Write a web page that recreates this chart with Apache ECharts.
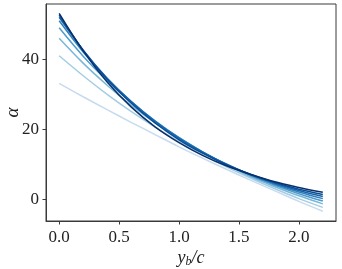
<!DOCTYPE html>
<html>
<head>
<meta charset="utf-8">
<script src="https://cdn.jsdelivr.net/npm/echarts@6/dist/echarts.min.js"></script>
<style>html,body{margin:0;padding:0;background:#fff}#c{width:342px;height:269px}</style>
</head>
<body>
<div id="c"></div>
<script>
// x positions (y_b / c)
var xs = [0.0, 0.2, 0.4, 0.6, 0.8, 1.0, 1.2, 1.4, 1.6, 1.8, 2.0, 2.2];
// alpha curves, lightest to darkest
var line1 = [33.1, 29.3, 25.6, 22.0, 18.5, 15.0, 11.7, 8.5, 5.4, 2.4, -0.6, -3.4];
var line2 = [41.0, 35.3, 30.0, 25.1, 20.6, 16.5, 12.7, 9.2, 6.0, 3.0, 0.2, -2.3];
var line3 = [46.0, 38.9, 32.6, 26.9, 21.8, 17.3, 13.3, 9.7, 6.4, 3.6, 1.0, -1.3];
var line4 = [49.0, 40.9, 33.9, 27.7, 22.3, 17.6, 13.5, 9.9, 6.7, 4.0, 1.6, -0.5];
var line5 = [51.0, 42.1, 34.5, 28.0, 22.4, 17.6, 13.5, 10.0, 6.9, 4.3, 2.1, 0.2];
var line6 = [52.0, 42.6, 34.6, 27.9, 22.2, 17.4, 13.4, 9.9, 7.0, 4.6, 2.5, 0.8];
var line7 = [52.6, 42.6, 34.3, 27.5, 21.8, 17.0, 13.1, 9.8, 7.1, 4.8, 2.9, 1.4];
var line8 = [53.1, 42.4, 33.5, 26.4, 20.7, 16.2, 12.5, 9.5, 7.1, 5.0, 3.4, 2.0];
var seriesData = [line1, line2, line3, line4, line5, line6, line7, line8];
var colors = ['#c6dbef', '#a3cde3', '#7ab6d9', '#509ccc', '#3080bd', '#1764ab', '#084d96', '#08306b'];
var xTicks = [0, 0.5, 1.0, 1.5, 2.0];
var yTicks = [0, 20, 40];

var chart = echarts.init(document.getElementById('c'));
var font = 'Liberation Serif';
chart.setOption({
  animation: false,
  grid: {left: 46, right: 6, top: 4, bottom: 48, containLabel: false, outerBoundsMode: 'none',
    show: true, borderColor: '#3a3a3a', borderWidth: 1, backgroundColor: 'transparent'},
  xAxis: {
    type: 'value', min: -0.11, max: 2.31,
    axisLine: {show: true, onZero: false, lineStyle: {color: '#3a3a3a', width: 1}},
    axisTick: {show: true, length: 3.5, lineStyle: {color: '#3a3a3a'}, customValues: xTicks},
    axisLabel: {customValues: xTicks, color: '#222', fontFamily: font, fontSize: 17, margin: 8,
      formatter: function (v) { return v.toFixed(1); }},
    splitLine: {show: false},
    name: '{i|y}{s|b}{i|/c}', nameLocation: 'middle', nameGap: 27, nameMoveOverlap: false,
    nameTextStyle: {
      rich: {
        i: {fontFamily: font, fontStyle: 'italic', fontSize: 18, color: '#222', lineHeight: 20},
        s: {fontFamily: font, fontStyle: 'italic', fontSize: 12, color: '#222', lineHeight: 20, padding: [7, 0, 0, 0]}
      }
    }
  },
  yAxis: {
    type: 'value', min: -6.2, max: 55.8,
    axisLine: {show: true, onZero: false, lineStyle: {color: '#3a3a3a', width: 1}},
    axisTick: {show: true, length: 3.5, lineStyle: {color: '#3a3a3a'}, customValues: yTicks},
    axisLabel: {customValues: yTicks, color: '#222', fontFamily: font, fontSize: 17, margin: 7},
    splitLine: {show: false},
    name: 'α', nameLocation: 'middle', nameGap: 24, nameMoveOverlap: false,
    nameTextStyle: {fontFamily: font, fontStyle: 'italic', fontSize: 19, color: '#222'}
  },
  series: seriesData.map(function (d, i) {
    return {
      type: 'line', data: xs.map(function (x, j) { return [x, d[j]]; }),
      showSymbol: false, smooth: 0.35, clip: false,
      lineStyle: {color: colors[i], width: 1.5}, z: 2 + i
    };
  })
});
</script>
</body>
</html>
